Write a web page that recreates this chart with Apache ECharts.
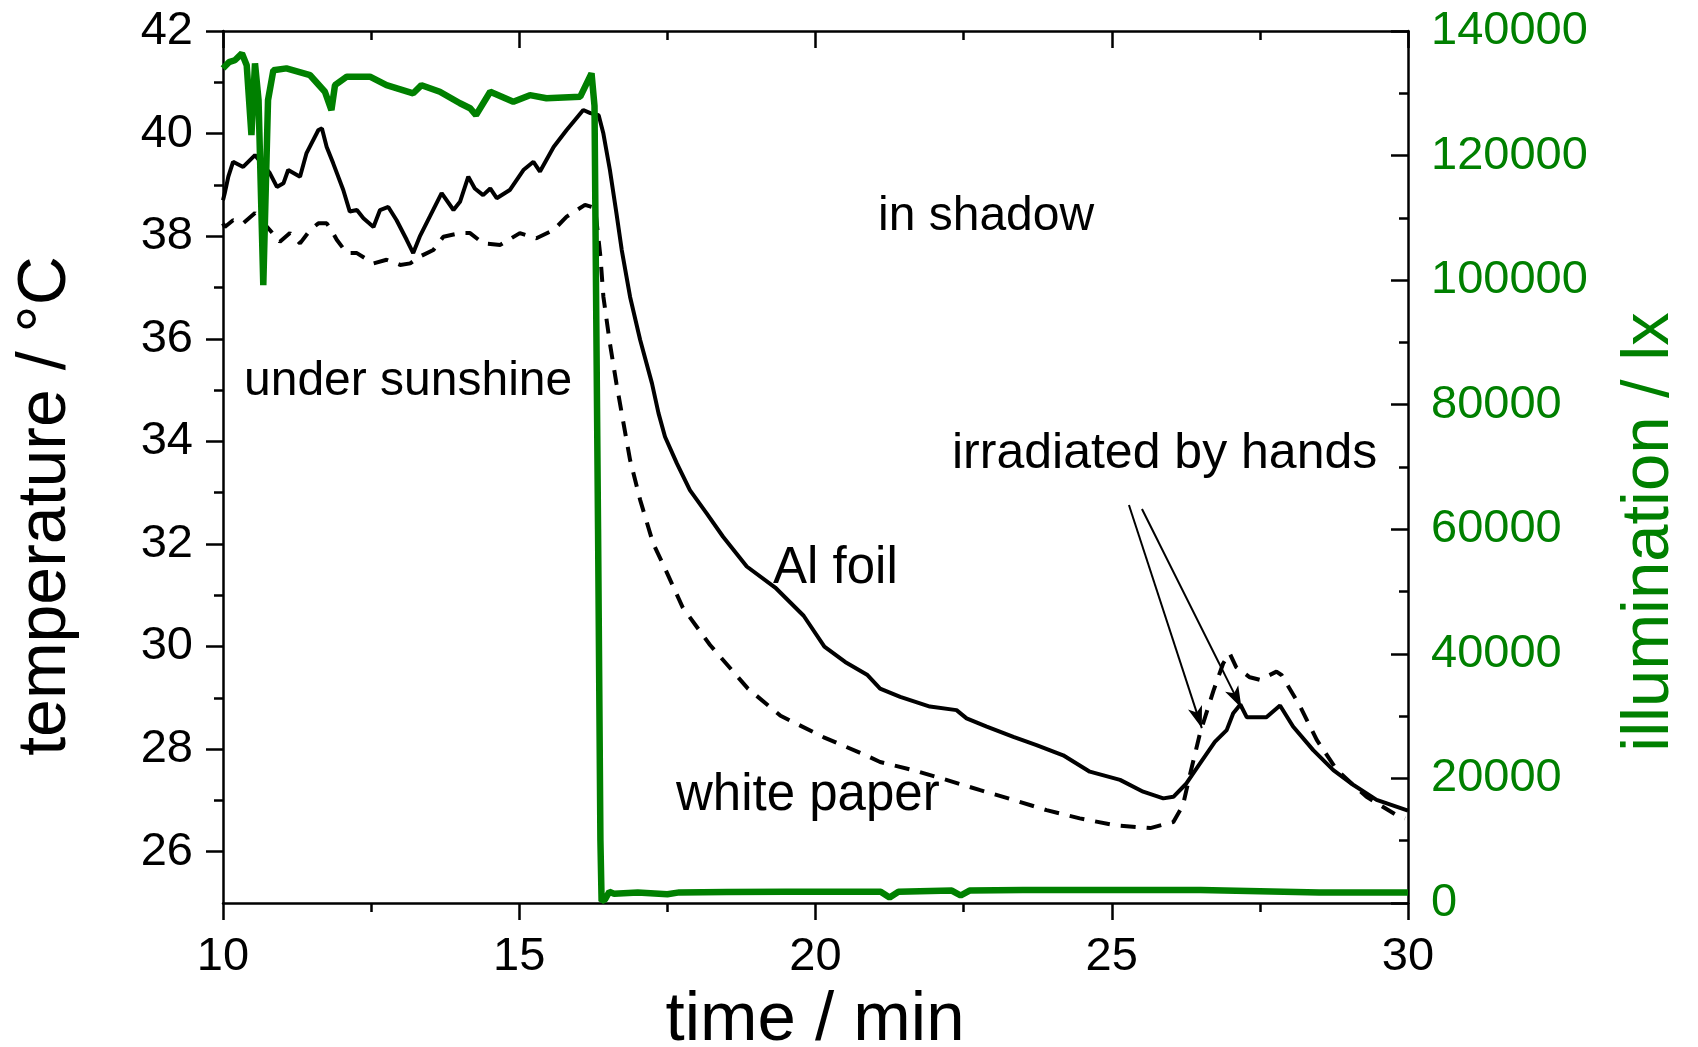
<!DOCTYPE html>
<html>
<head>
<meta charset="utf-8">
<script src="https://cdn.jsdelivr.net/npm/echarts@6/dist/echarts.min.js"></script>
<style>
html,body{margin:0;padding:0;background:#fff;}
#main{width:1698px;height:1047px;}
</style>
</head>
<body>
<div id="main"></div>
<script>
// ---- Data ----
const timeAl = [10.0,10.03,10.09,10.17,10.34,10.54,10.79,10.91,11.02,11.1,11.3,11.41,11.61,11.67,11.75,11.86,12.03,12.14,12.26,12.37,12.54,12.65,12.79,12.93,13.1,13.21,13.32,13.49,13.69,13.89,14.0,14.14,14.25,14.39,14.51,14.62,14.84,15.07,15.24,15.35,15.58,15.8,16.08,16.2,16.34,16.42,16.53,16.64,16.73,16.87,17.04,17.24,17.35,17.46,17.66,17.88,18.16,18.44,18.84,19.32,19.8,20.15,20.5,20.87,21.09,21.43,21.93,22.38,22.55,22.89,23.34,23.73,24.18,24.63,25.14,25.53,25.87,26.04,26.26,26.49,26.74,26.94,27.05,27.17,27.28,27.61,27.84,28.06,28.4,28.74,29.08,29.47,30.0];
const tempAl = [38.7,38.84,39.16,39.45,39.35,39.58,39.23,38.96,39.03,39.29,39.16,39.62,40.07,40.1,39.74,39.42,38.9,38.48,38.51,38.35,38.18,38.51,38.57,38.31,37.93,37.67,37.99,38.38,38.84,38.51,38.67,39.16,38.93,38.8,38.93,38.74,38.9,39.29,39.45,39.26,39.74,40.07,40.46,40.4,40.36,40.0,39.29,38.45,37.73,36.82,35.98,35.13,34.55,34.09,33.57,33.05,32.6,32.14,31.56,31.15,30.6,30.0,29.7,29.45,29.18,29.02,28.83,28.76,28.6,28.44,28.24,28.08,27.88,27.56,27.4,27.17,27.04,27.07,27.33,27.72,28.14,28.37,28.7,28.87,28.62,28.62,28.85,28.44,27.98,27.59,27.3,27.01,26.8];

const timePaper = [10.0,10.03,10.17,10.34,10.54,10.79,10.96,11.13,11.3,11.47,11.61,11.75,11.83,11.92,12.09,12.26,12.54,12.76,12.99,13.16,13.32,13.55,13.72,14.0,14.17,14.39,14.68,15.01,15.29,15.58,15.8,16.11,16.28,16.37,16.42,16.53,16.64,16.76,16.87,17.04,17.26,17.46,17.76,18.22,18.86,19.41,20.14,20.87,21.09,21.65,22.21,22.78,23.34,23.9,24.46,25.03,25.65,26.04,26.2,26.32,26.49,26.72,26.88,26.99,27.1,27.33,27.5,27.78,27.87,28.18,28.46,28.8,29.3,29.81,29.95];
const tempPaper = [38.25,38.18,38.31,38.25,38.45,38.12,37.89,38.06,37.86,38.12,38.25,38.25,38.12,37.93,37.67,37.67,37.47,37.54,37.44,37.47,37.6,37.73,37.99,38.06,38.06,37.86,37.83,38.06,37.96,38.12,38.38,38.61,38.55,37.6,36.82,35.91,35.13,34.35,33.64,32.86,32.01,31.52,30.76,30.03,29.18,28.65,28.23,27.87,27.75,27.59,27.4,27.2,27.01,26.81,26.65,26.52,26.46,26.58,26.9,27.5,28.31,29.15,29.67,29.87,29.6,29.4,29.35,29.51,29.44,28.83,28.18,27.59,27.07,26.71,26.65];

const timeLux = [10.0,10.1,10.2,10.32,10.4,10.48,10.54,10.6,10.68,10.76,10.85,11.07,11.47,11.72,11.83,11.89,12.09,12.48,12.76,13.21,13.35,13.66,14.0,14.17,14.27,14.51,14.9,15.18,15.46,16.03,16.22,16.27,16.33,16.37,16.39,16.45,16.52,16.6,17.0,17.5,17.7,18.5,19.5,20.5,21.1,21.25,21.4,22.3,22.45,22.6,23.5,25.0,26.5,27.5,28.5,30.0];
const lux = [134000,135000,135300,136400,134500,123300,134800,128900,99200,128900,133700,134000,132900,130250,127300,131300,132660,132660,131300,130000,131300,130250,128400,127600,126500,130250,128650,129700,129200,129450,133200,128000,60000,10000,300,600,1800,1500,1700,1400,1700,1750,1800,1800,1800,900,1800,2000,1200,2000,2100,2100,2100,1900,1700,1700];

// tick values
const tempMajorTicks = [26,28,30,32,34,36,38,40,42];
const tempMinorTicks = [27,29,31,33,35,37,39,41];

// annotation arrows (data coordinates: time, temperature)
const arrowFrom = [[25.29,32.76],[25.51,32.68]];
const arrowTo   = [[26.52,28.41],[27.19,28.80]];

const zip = (a,b) => a.map((v,i)=>[v,b[i]]);
const FONT = '"Liberation Sans", Arial, Helvetica, sans-serif';
const GREEN = '#008000';

const chart = echarts.init(document.getElementById('main'), null, {renderer:'canvas'});

const axisLineStyle = {color:'#000', width:2.5};

const option = {
  animation:false,
  backgroundColor:'#fff',
  grid:{left:223, right:290, top:31, bottom:144, containLabel:false},
  xAxis:[
    {type:'value', gridIndex:0, position:'bottom', min:10, max:30, interval:5,
     axisLine:{show:true, onZero:false, lineStyle:axisLineStyle},
     axisTick:{show:true, inside:false, length:17, lineStyle:{color:'#000', width:2.5}},
     minorTick:{show:true, splitNumber:2, length:9, lineStyle:{color:'#000', width:2.5}},
     axisLabel:{fontSize:47, color:'#000', margin:31, fontFamily:FONT},
     splitLine:{show:false}},
    {type:'value', gridIndex:0, position:'top', min:10, max:30, interval:5,
     axisLine:{show:true, onZero:false, lineStyle:axisLineStyle},
     axisTick:{show:true, inside:true, length:17, lineStyle:{color:'#000', width:2.5}},
     minorTick:{show:true, splitNumber:2, length:9, lineStyle:{color:'#000', width:2.5}},
     axisLabel:{show:false}, splitLine:{show:false}}
  ],
  yAxis:[
    {type:'value', position:'left', min:25, max:42,
     axisLine:{show:true, onZero:false, lineStyle:axisLineStyle},
     axisTick:{show:true, inside:false, length:17, customValues:tempMajorTicks, lineStyle:{color:'#000', width:2.5}},
     axisLabel:{fontSize:47, color:'#000', margin:30, fontFamily:FONT, customValues:tempMajorTicks},
     splitLine:{show:false}},
    {type:'value', position:'left', min:25, max:42,
     axisLine:{show:false},
     axisTick:{show:true, inside:false, length:9, customValues:tempMinorTicks, lineStyle:{color:'#000', width:2.5}},
     axisLabel:{show:false}, splitLine:{show:false}},
    {type:'value', position:'right', min:0, max:140000, interval:20000,
     axisLine:{show:true, onZero:false, lineStyle:axisLineStyle},
     axisTick:{show:true, inside:true, length:17, lineStyle:{color:'#000', width:2.5}},
     minorTick:{show:true, splitNumber:2, length:9, lineStyle:{color:'#000', width:2.5}},
     axisLabel:{fontSize:47, color:GREEN, margin:23, fontFamily:FONT, formatter:v=>String(v)},
     splitLine:{show:false}}
  ],
  series:[
    {name:'Al foil', type:'line', xAxisIndex:0, yAxisIndex:0, data:zip(timeAl,tempAl),
     showSymbol:false, smooth:false, lineStyle:{color:'#000', width:4}, z:2,
     markLine:{silent:true, animation:false, label:{show:false},
       lineStyle:{color:'#000', width:2, type:'solid'},
       data: arrowFrom.map((p,i)=>[
         {coord:p, symbol:'none'},
         {coord:arrowTo[i], symbol:'arrow', symbolSize:[11,22]}
       ])}},
    {name:'white paper', type:'line', xAxisIndex:0, yAxisIndex:0, data:zip(timePaper,tempPaper),
     showSymbol:false, smooth:false, lineStyle:{color:'#000', width:4, type:[15,11]}, z:2},
    {name:'illumination', type:'line', xAxisIndex:0, yAxisIndex:2, data:zip(timeLux,lux),
     showSymbol:false, smooth:false, lineStyle:{color:GREEN, width:6.5}, z:3}
  ],
  graphic:[
    {type:'text', x:244, y:382, style:{text:'under sunshine', font:'48px '+FONT, fill:'#000', textAlign:'left', textVerticalAlign:'middle'}},
    {type:'text', x:878, y:217, style:{text:'in shadow', font:'48px '+FONT, fill:'#000', textAlign:'left', textVerticalAlign:'middle'}},
    {type:'text', x:952, y:454, style:{text:'irradiated by hands', font:'50px '+FONT, fill:'#000', textAlign:'left', textVerticalAlign:'middle'}},
    {type:'text', x:773, y:569, style:{text:'Al foil', font:'51px '+FONT, fill:'#000', textAlign:'left', textVerticalAlign:'middle'}},
    {type:'text', x:676, y:796, style:{text:'white paper', font:'51px '+FONT, fill:'#000', textAlign:'left', textVerticalAlign:'middle'}},
    {type:'text', x:815, y:1021, style:{text:'time / min', font:'69px '+FONT, fill:'#000', textAlign:'center', textVerticalAlign:'middle'}},
    {type:'text', x:46, y:506, rotation:Math.PI/2, style:{text:'temperature / °C', font:'68px '+FONT, fill:'#000', textAlign:'center', textVerticalAlign:'middle'}},
    {type:'text', x:1650, y:532, rotation:Math.PI/2, style:{text:'illumination / lx', font:'67px '+FONT, fill:GREEN, textAlign:'center', textVerticalAlign:'middle'}}
  ]
};
chart.setOption(option);
</script>
</body>
</html>
